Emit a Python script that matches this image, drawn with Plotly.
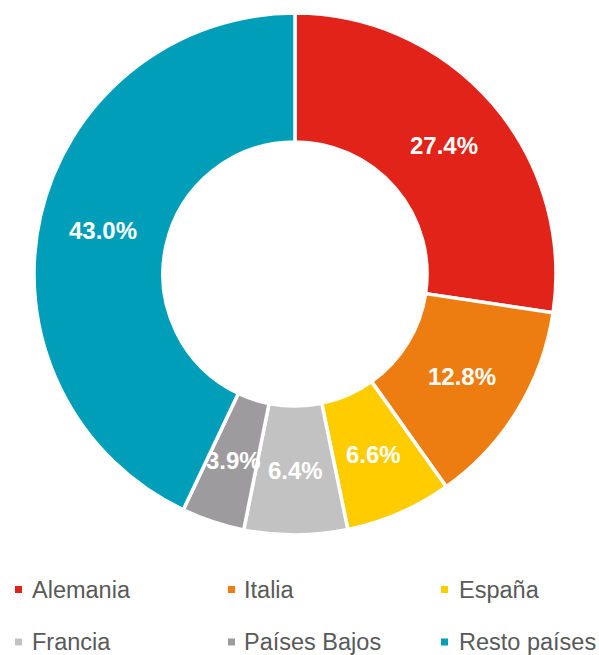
import math
import plotly.graph_objects as go

categories = ["Alemania", "Italia", "España", "Francia", "Países Bajos", "Resto países"]
values = [27.4, 12.8, 6.6, 6.4, 3.9, 43.0]
colors = ["#E2231A", "#EE7D11", "#FFCC00", "#C3C2C3", "#9D9B9D", "#009EB8"]
labels_text = [f"{v:.1f}%" for v in values]

W, H = 599, 655
cx, cy, R = 295, 274, 261  # pixel geometry of donut
HOLE = 0.506
FONT = "Arial, Liberation Sans, sans-serif"

fig = go.Figure()
fig.add_trace(go.Pie(
    labels=categories,
    values=values,
    textinfo="none",
    marker=dict(colors=colors, line=dict(color="white", width=3.5)),
    hole=HOLE,
    sort=False,
    direction="clockwise",
    rotation=0,
    showlegend=False,
    domain=dict(x=[(cx - R) / W, (cx + R) / W], y=[(H - cy - R) / H, (H - cy + R) / H]),
))

annotations = []
shapes = []

# slice labels at the middle of each ring segment (computed from the values)
total = sum(values)
cum = 0.0
r_mid = R * (1 + HOLE) / 2
for v, t in zip(values, labels_text):
    ang = (cum + v / 2) / total * 2 * math.pi
    cum += v
    px = cx + r_mid * math.sin(ang)
    py = cy - r_mid * math.cos(ang)
    annotations.append(dict(text=f"<b>{t}</b>", xref="paper", yref="paper", x=px / W, y=(H - py) / H,
                            xanchor="center", yanchor="middle", showarrow=False,
                            font=dict(family=FONT, size=24, color="white")))

# custom legend
col_marker_x = [15, 228, 441]
col_text_x = [30, 242, 457]
row_y = [589.5, 642]
for i, (cat, col) in enumerate(zip(categories, colors)):
    c, r = i % 3, i // 3
    mx, my = col_marker_x[c], row_y[r]
    shapes.append(dict(type="rect", xref="paper", yref="paper",
                       x0=mx / W, x1=(mx + 7) / W, y0=(H - my - 3.5) / H, y1=(H - my + 3.5) / H,
                       fillcolor=col, line=dict(width=0)))
    annotations.append(dict(text=cat, xref="paper", yref="paper", x=col_text_x[c] / W, y=(H - my) / H,
                            xanchor="left", yanchor="middle", showarrow=False,
                            font=dict(family=FONT, size=23.5, color="#595959")))

fig.update_layout(
    width=W, height=H,
    margin=dict(l=0, r=0, t=0, b=0),
    paper_bgcolor="white", plot_bgcolor="white",
    shapes=shapes, annotations=annotations,
)
fig.write_html("out.html",
               config={"displayModeBar": False},
               post_script="document.body.style.margin='0';document.body.style.overflow='hidden';")
